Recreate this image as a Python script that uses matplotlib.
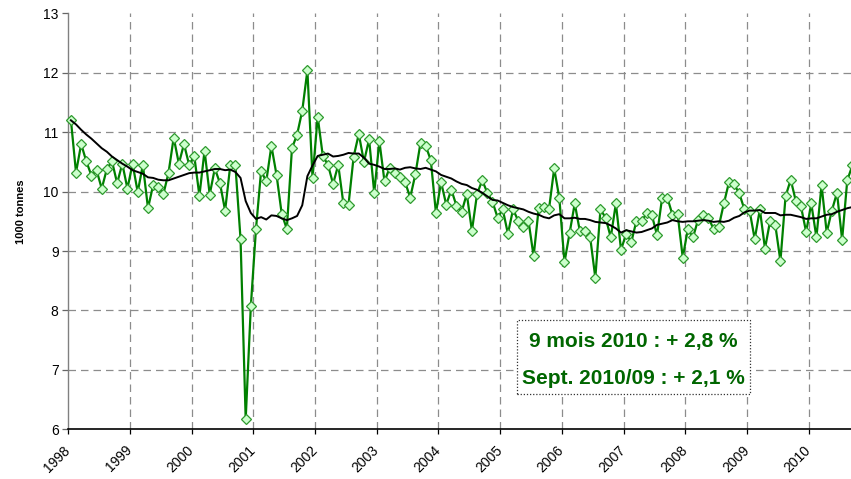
import matplotlib
matplotlib.use("Agg")
import matplotlib.pyplot as plt
from matplotlib.patches import Rectangle
import numpy as np

plt.rcParams['font.family'] = ['Liberation Sans', 'DejaVu Sans']

# Monthly values, Jan 1998 .. Sep 2010 (1000 tonnes)
production = [
    11.21, 10.32, 10.80, 10.51, 10.27, 10.36, 10.05, 10.38, 10.51, 10.14, 10.47, 10.05,
    10.47, 9.99, 10.45, 9.72, 10.11, 10.08, 9.96, 10.32, 10.91, 10.47, 10.80, 10.45,
    10.60, 9.93, 10.69, 9.95, 10.39, 10.14, 9.68, 10.44, 10.44, 9.20, 6.17, 8.07,
    9.37, 10.35, 10.17, 10.77, 10.28, 9.63, 9.37, 10.73, 10.96, 11.36, 12.04, 10.23,
    11.26, 10.60, 10.45, 10.13, 10.45, 9.80, 9.78, 10.59, 10.97, 10.50, 10.88, 9.98,
    10.85, 10.17, 10.40, 10.32, 10.24, 10.16, 9.90, 10.29, 10.82, 10.77, 10.53, 9.64,
    10.16, 9.78, 10.03, 9.76, 9.66, 9.96, 9.34, 9.96, 10.19, 9.98, 9.83, 9.56,
    9.70, 9.29, 9.70, 9.51, 9.40, 9.51, 8.91, 9.73, 9.74, 9.71, 10.39, 9.89,
    8.81, 9.31, 9.80, 9.33, 9.33, 9.23, 8.55, 9.70, 9.56, 9.23, 9.80, 9.02,
    9.29, 9.15, 9.51, 9.50, 9.64, 9.60, 9.27, 9.90, 9.90, 9.61, 9.63, 8.89,
    9.37, 9.23, 9.53, 9.61, 9.56, 9.37, 9.41, 9.80, 10.16, 10.12, 9.97, 9.70,
    9.68, 9.20, 9.70, 9.04, 9.51, 9.44, 8.83, 9.92, 10.20, 9.84, 9.75, 9.32,
    9.80, 9.23, 10.11, 9.31, 9.68, 9.98, 9.19, 10.19, 10.44,
]

# 12-month moving average (black line)
moving_avg = [
    11.20, 11.13, 11.04, 10.96, 10.89, 10.81, 10.73, 10.67, 10.59, 10.53, 10.47, 10.42,
    10.36, 10.33, 10.30, 10.24, 10.23, 10.20, 10.19, 10.19, 10.22, 10.25, 10.28, 10.31,
    10.32, 10.32, 10.34, 10.36, 10.38, 10.38, 10.36, 10.37, 10.33, 10.23, 9.84, 9.64,
    9.54, 9.57, 9.53, 9.60, 9.59, 9.55, 9.52, 9.55, 9.59, 9.77, 10.26, 10.44,
    10.60, 10.62, 10.64, 10.59, 10.60, 10.62, 10.65, 10.64, 10.64, 10.57, 10.47, 10.45,
    10.42, 10.38, 10.38, 10.39, 10.37, 10.40, 10.41, 10.39, 10.38, 10.40, 10.37, 10.34,
    10.28, 10.25, 10.22, 10.17, 10.13, 10.11, 10.06, 10.03, 9.98, 9.92, 9.86, 9.85,
    9.81, 9.77, 9.74, 9.72, 9.70, 9.66, 9.63, 9.61, 9.57, 9.55, 9.60, 9.62,
    9.55, 9.55, 9.56, 9.54, 9.54, 9.52, 9.49, 9.48, 9.47, 9.43, 9.38, 9.31,
    9.35, 9.33, 9.31, 9.32, 9.35, 9.38, 9.44, 9.46, 9.48, 9.52, 9.50, 9.49,
    9.50, 9.50, 9.51, 9.52, 9.51, 9.49, 9.50, 9.49, 9.51, 9.56, 9.59, 9.65,
    9.68, 9.68, 9.69, 9.64, 9.64, 9.64, 9.60, 9.61, 9.61, 9.59, 9.57, 9.54,
    9.55, 9.55, 9.58, 9.61, 9.62, 9.66, 9.69, 9.72, 9.74,
]

year_ticks = list(range(1998, 2011))
year_labels = [str(y) for y in year_ticks]
y_ticks = [6, 7, 8, 9, 10, 11, 12, 13]
note_lines = ["9 mois 2010 : + 2,8 %", "Sept. 2010/09 : + 2,1 %"]

start_year = 1998
x = start_year + (np.arange(len(production)) + 0.5) / 12.0

fig = plt.figure(figsize=(8.51, 4.79), dpi=100)
ax = fig.add_axes([68.3 / 851, 1 - 429.3 / 479, 12.75 * 61.7 / 851, (429.3 - 13.3) / 479])

ax.set_xlim(start_year, start_year + len(production) / 12.0)
ax.set_ylim(6, 13)

# grid
for yv in y_ticks[1:-1]:
    ax.axhline(yv, color='#8c8c8c', lw=0.9, ls=(0, (6, 4)), zorder=0)
for xv in year_ticks[1:]:
    ax.axvline(xv, color='#8c8c8c', lw=0.9, ls=(0, (6, 4)), zorder=0)

ax.plot(x, production, color='#008000', lw=1.6, marker='D', markersize=5.4,
        markerfacecolor='#ccffcc', markeredgecolor='#2e9a2e', markeredgewidth=0.9,
        zorder=3, clip_on=False)
ax.plot(x, moving_avg, color='black', lw=1.4, zorder=4)

ax.set_xticks(year_ticks)
ax.set_xticklabels(year_labels, rotation=45, ha='right', va='center',
                   rotation_mode='anchor', fontsize=10)
ax.set_yticks(y_ticks)
ax.set_yticklabels([str(v) for v in y_ticks], fontsize=10)
ax.tick_params(axis='y', direction='out', length=4, width=0.9, colors='#666666', labelcolor='black', pad=3)
ax.tick_params(axis='x', direction='out', length=3.5, width=0.9, colors='black', pad=10)

for side in ['top', 'right']:
    ax.spines[side].set_visible(False)
ax.spines['left'].set_color('#808080')
ax.spines['left'].set_linewidth(1.0)
ax.spines['bottom'].set_color('black')
ax.spines['bottom'].set_linewidth(1.2)

ax.set_ylabel('1000 tonnes', fontsize=8, fontweight='bold')
ax.yaxis.set_label_coords(-0.054, 0.522)

# annotation box
fig.patches.append(Rectangle((516.7 / 851, 1 - 394 / 479), (750 - 516.7) / 851, (394 - 320) / 479,
                             transform=fig.transFigure, fill=True, facecolor='white',
                             edgecolor='#333333', lw=0.9, ls=(0, (1, 1.5)), zorder=5))
fig.text(633 / 851, 1 - 341 / 479, note_lines[0], ha='center', va='center',
         fontsize=15, fontweight='bold', color='#006600', zorder=6)
fig.text(633.5 / 851, 1 - 378.5 / 479, note_lines[1], ha='center', va='center',
         fontsize=15, fontweight='bold', color='#006600', zorder=6)

fig.savefig('out.png', dpi=100)
